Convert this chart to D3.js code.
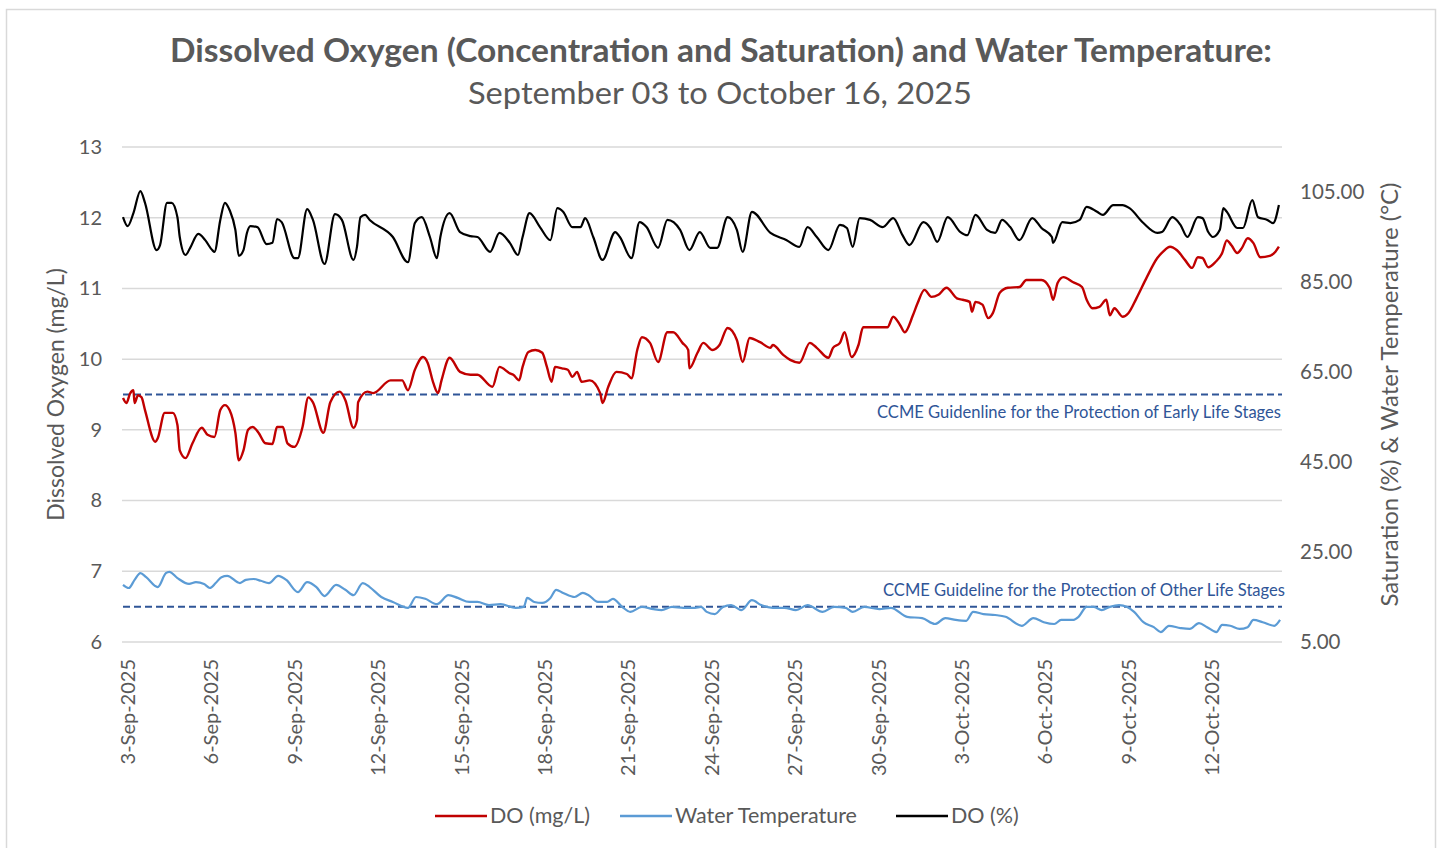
<!DOCTYPE html>
<html>
<head>
<meta charset="utf-8">
<script src="https://cdn.jsdelivr.net/npm/d3@7"></script>
<style>
body { margin: 0; background: #fff; }
svg text { font-family: Lato, "Open Sans", sans-serif; fill: #595959; }
</style>
</head>
<body>
<svg id="chart" width="1438" height="848"></svg>
<script>
var svg = d3.select('#chart');
const W = +svg.attr('width');
const H = +svg.attr('height');

// readings: [hours since 3-Sep-2025 00:00, value]
const doMgL = [[0,9.45],[3,9.38],[6,9.51],[9,9.56],[10,9.38],[13,9.49],[16,9.46],[19,9.28],[28,8.83],[30,8.88],[36,9.24],[43,9.24],[47,9.07],[49,8.71],[54,8.60],[60,8.81],[68,9.03],[73,8.93],[79,8.90],[84,9.28],[88,9.35],[92,9.28],[97,8.96],[100,8.57],[104,8.71],[108,9.00],[112,9.04],[117,8.96],[123,8.81],[129,8.80],[133,9.04],[138,9.04],[142,8.81],[148,8.76],[155,9.04],[160,9.46],[164,9.39],[173,8.96],[179,9.39],[187,9.54],[192,9.42],[199,9.03],[202,9.14],[203,9.39],[211,9.54],[216,9.52],[231,9.70],[241,9.70],[246,9.56],[252,9.85],[259,10.03],[263,9.95],[268,9.66],[272,9.52],[275,9.70],[282,10.02],[291,9.82],[300,9.78],[306,9.78],[319,9.61],[325,9.89],[334,9.80],[337,9.78],[342,9.70],[345,9.89],[350,10.10],[356,10.13],[362,10.09],[366,9.89],[370,9.68],[373,9.89],[379,9.87],[384,9.85],[388,9.75],[392,9.82],[396,9.68],[403,9.70],[412,9.52],[414,9.38],[419,9.61],[426,9.82],[435,9.79],[439,9.73],[444,10.13],[448,10.31],[455,10.23],[462,9.96],[470,10.38],[475,10.38],[483,10.23],[488,10.13],[489,9.87],[496,10.09],[501,10.23],[509,10.13],[515,10.20],[522,10.44],[530,10.27],[535,9.96],[541,10.30],[550,10.24],[559,10.16],[561,10.20],[570,10.06],[576,9.99],[584,9.95],[593,10.23],[599,10.16],[609,10.02],[613,10.16],[619,10.23],[623,10.38],[629,10.03],[635,10.20],[639,10.45],[654,10.45],[660,10.45],[665,10.60],[671,10.48],[675,10.38],[682,10.62],[686,10.79],[692,10.98],[698,10.88],[704,10.91],[711,11.01],[720,10.86],[725,10.84],[731,10.81],[733,10.67],[736,10.81],[742,10.77],[747,10.58],[751,10.65],[757,10.94],[764,11.01],[774,11.02],[780,11.12],[793,11.12],[800,11.01],[803,10.84],[807,11.08],[812,11.16],[820,11.09],[828,11.02],[832,10.84],[837,10.72],[843,10.74],[849,10.84],[852,10.62],[856,10.72],[863,10.60],[868,10.65],[875,10.86],[884,11.16],[893,11.43],[898,11.52],[904,11.59],[910,11.54],[917,11.40],[923,11.29],[928,11.44],[932,11.43],[937,11.30],[943,11.37],[949,11.50],[953,11.68],[957,11.61],[962,11.50],[966,11.57],[971,11.71],[976,11.64],[982,11.44],[990,11.46],[995,11.52],[998,11.59]];

const waterTemp = [[0,17.7],[5,17.0],[10,18.8],[15,20.3],[20,19.4],[30,17.2],[37,20.3],[40,20.6],[47,19.2],[57,17.9],[63,18.3],[70,17.9],[75,17.0],[80,18.1],[85,19.4],[90,19.7],[101,18.1],[106,18.8],[113,19.0],[119,18.6],[126,18.1],[134,19.7],[141,18.8],[151,16.1],[159,18.3],[167,17.2],[174,15.2],[184,17.7],[192,16.6],[199,15.4],[207,18.1],[213,17.2],[223,15.0],[233,13.9],[246,12.6],[253,15.0],[261,14.6],[271,13.4],[281,15.4],[289,14.8],[299,13.9],[306,13.9],[316,13.2],[326,13.4],[339,12.6],[346,12.8],[349,14.8],[355,13.9],[362,13.7],[369,14.8],[374,16.6],[380,15.9],[390,15.0],[397,15.9],[402,15.4],[410,13.9],[418,13.9],[423,14.6],[431,12.8],[438,11.7],[448,12.8],[458,12.3],[465,12.1],[474,12.8],[484,12.6],[494,12.6],[499,12.8],[504,11.7],[511,11.2],[518,12.8],[525,13.2],[534,12.1],[543,14.3],[551,13.2],[561,12.6],[571,12.6],[581,12.1],[591,13.2],[604,11.7],[614,12.8],[624,12.6],[630,11.7],[640,12.8],[653,12.3],[663,12.6],[677,10.6],[690,10.3],[701,9.0],[710,10.3],[719,9.9],[728,9.7],[734,11.7],[743,11.2],[753,11.0],[762,10.6],[776,8.6],[786,10.3],[795,9.4],[804,9.0],[810,9.9],[820,9.9],[825,10.6],[832,12.8],[838,12.8],[845,12.1],[852,12.8],[860,13.2],[867,12.8],[873,11.7],[881,9.4],[890,8.3],[896,7.2],[903,8.6],[913,8.1],[921,7.9],[929,9.2],[936,8.3],[944,7.2],[949,8.8],[956,8.6],[964,7.9],[971,8.3],[976,9.9],[984,9.4],[994,8.6],[999,9.9]];

const doPct = [[0,99.4],[4,97.4],[9,100.3],[15,105.2],[19,102.6],[29,92.1],[32,93.2],[38,102.6],[42,102.6],[47,99.4],[49,95.0],[54,91.0],[58,92.6],[65,95.7],[71,94.3],[77,92.1],[79,91.7],[84,98.8],[88,102.6],[92,101.0],[97,96.6],[100,90.8],[104,92.1],[107,95.9],[110,97.4],[116,97.2],[124,93.4],[129,93.7],[133,99.0],[137,98.3],[148,90.3],[151,90.3],[159,101.2],[164,98.8],[174,89.0],[183,100.1],[189,98.8],[199,89.9],[202,92.8],[205,99.4],[209,99.9],[213,98.8],[233,95.0],[246,89.4],[252,98.1],[258,99.4],[265,95.0],[271,90.3],[274,95.0],[282,100.3],[291,96.1],[300,95.2],[306,95.0],[317,91.7],[325,95.9],[334,93.7],[341,91.0],[345,95.0],[351,100.3],[360,97.2],[369,94.3],[375,101.4],[380,100.6],[388,97.2],[395,97.2],[399,99.2],[406,95.0],[414,89.9],[425,96.1],[429,95.0],[439,90.3],[446,98.3],[452,97.2],[462,92.6],[470,98.8],[481,96.6],[489,92.1],[498,96.1],[507,92.6],[513,92.6],[522,99.4],[530,96.6],[535,91.7],[543,100.6],[559,95.9],[573,94.3],[584,92.8],[591,97.2],[599,95.0],[609,92.1],[619,97.7],[625,97.0],[630,92.8],[636,99.2],[645,98.8],[656,97.2],[665,99.2],[673,95.4],[679,93.2],[691,98.3],[697,97.0],[703,93.9],[712,99.4],[723,96.1],[729,95.4],[736,99.9],[746,96.6],[753,95.9],[759,98.8],[766,97.2],[774,94.3],[785,99.2],[793,97.0],[802,95.0],[803,93.7],[811,98.3],[818,98.1],[826,98.8],[832,101.7],[841,100.6],[846,99.9],[855,102.1],[863,102.1],[869,101.4],[881,98.1],[893,95.9],[897,96.1],[906,99.4],[913,97.7],[919,95.0],[928,99.4],[932,99.2],[937,96.1],[941,95.0],[947,96.6],[950,101.4],[953,100.6],[962,97.0],[967,97.0],[975,103.2],[980,99.4],[988,98.8],[993,98.1],[998,102.1]];

const tickDates = ["2025-09-03","2025-09-06","2025-09-09","2025-09-12","2025-09-15","2025-09-18","2025-09-21","2025-09-24","2025-09-27","2025-09-30","2025-10-03","2025-10-06","2025-10-09","2025-10-12"];
const leftTicks = [6, 7, 8, 9, 10, 11, 12, 13];
const rightTicks = [5, 25, 45, 65, 85, 105];
const guidelines = [
    {value: 9.5, label: "CCME Guidenline for the Protection of Early Life Stages", dy: 23, end: 1281, len: 404},
    {value: 6.5, label: "CCME Guideline for the Protection of Other Life Stages", dy: -11, end: 1285, len: 402}
];
const seriesNames = ["DO (mg/L)", "Water Temperature", "DO (%)"];
const seriesColors = ["#c00000", "#5b9bd5", "#000000"];

const startDate = new Date(2025, 8, 3, 0, 0);
const endDate = new Date(2025, 9, 14, 16, 40);
const parseDay = d3.timeParse("%Y-%m-%d");
const fmtDay = d3.timeFormat("%-d-%b-%Y");
const toDate = h => new Date(startDate.getTime() + h * 3600 * 1000);

const margin = {top: 147, bottom: 206, left: 123, right: 156};
const innerR = W - margin.right;
const innerB = H - margin.bottom;

const X = d3.scaleTime().domain([startDate, endDate]).range([margin.left, innerR]);
const Yleft = d3.scaleLinear().domain([6, 13]).range([innerB, margin.top]);
const Yright = d3.scaleLinear().domain([5, 115]).range([innerB, margin.top]);

// chart area border
svg.append('rect')
    .attr('x', 6.5).attr('y', 9.5)
    .attr('width', W - 9).attr('height', H - 8)
    .attr('fill', 'white').attr('stroke', '#d9d9d9').attr('stroke-width', 1.5);

// gridlines
svg.append('g').selectAll('line').data(leftTicks)
    .enter().append('line')
        .attr('x1', margin.left - 1).attr('x2', innerR)
        .attr('y1', d => Yleft(d)).attr('y2', d => Yleft(d))
        .style('stroke', '#d9d9d9').style('stroke-width', 1.5);

// left axis
const gl = svg.append('g')
    .attr('transform', 'translate(' + (margin.left - 1) + ',0)')
    .call(d3.axisLeft(Yleft).tickValues(leftTicks).tickSize(0).tickPadding(20).tickFormat(d3.format('d')));
gl.select('.domain').remove();
gl.selectAll('text').style('font-size', '20px').style('fill', '#595959').style('font-family', 'Lato');

// right axis
const gr = svg.append('g')
    .attr('transform', 'translate(' + innerR + ',0)')
    .call(d3.axisRight(Yright).tickValues(rightTicks).tickSize(0).tickPadding(18).tickFormat(d3.format('.2f')));
gr.select('.domain').remove();
gr.selectAll('text').style('font-size', '20.5px').style('fill', '#595959').style('font-family', 'Lato');

// x tick labels, rotated
svg.append('g').selectAll('text').data(tickDates)
    .enter().append('text')
        .attr('transform', d => 'translate(' + (X(parseDay(d)) + 5) + ',' + (innerB + 17) + ') rotate(-90)')
        .attr('dy', '0.35em')
        .attr('text-anchor', 'end')
        .style('font-size', '20px')
        .text(d => fmtDay(parseDay(d)));

// guideline dashed lines
guidelines.forEach(g => {
    svg.append('line')
        .attr('x1', margin.left).attr('x2', innerR)
        .attr('y1', Yleft(g.value)).attr('y2', Yleft(g.value))
        .style('stroke', '#2f5597').style('stroke-width', 2)
        .style('stroke-dasharray', '7,4');
    svg.append('text')
        .attr('x', g.end).attr('y', Yleft(g.value) + g.dy)
        .attr('text-anchor', 'end')
        .attr('textLength', g.len).attr('lengthAdjust', 'spacingAndGlyphs')
        .style('font-size', '16.5px').style('fill', '#2f5597')
        .text(g.label);
});

// series
const lineL = d3.line().curve(d3.curveMonotoneX).x(d => X(toDate(d[0]))).y(d => Yleft(d[1]));
const lineR = d3.line().curve(d3.curveMonotoneX).x(d => X(toDate(d[0]))).y(d => Yright(d[1]));

svg.append('path').datum(doMgL)
    .attr('d', lineL).attr('fill', 'none')
    .style('stroke', seriesColors[0]).style('stroke-width', 2.4).style('stroke-linejoin', 'round');
svg.append('path').datum(waterTemp)
    .attr('d', lineR).attr('fill', 'none')
    .style('stroke', seriesColors[1]).style('stroke-width', 2.2).style('stroke-linejoin', 'round');
svg.append('path').datum(doPct)
    .attr('d', lineR).attr('fill', 'none')
    .style('stroke', seriesColors[2]).style('stroke-width', 2.2).style('stroke-linejoin', 'round');

// titles
svg.append('text')
    .attr('x', 721).attr('y', 62)
    .attr('text-anchor', 'middle')
    .attr('textLength', 1102).attr('lengthAdjust', 'spacingAndGlyphs')
    .style('font-size', '32px').style('font-weight', 'bold')
    .text("Dissolved Oxygen (Concentration and Saturation) and Water Temperature:");
svg.append('text')
    .attr('x', 720).attr('y', 104)
    .attr('text-anchor', 'middle')
    .attr('textLength', 504).attr('lengthAdjust', 'spacingAndGlyphs')
    .style('font-size', '31px')
    .text("September 03 to October 16, 2025");

svg.append('text')
    .attr('transform', 'translate(64,' + ((margin.top + innerB) / 2) + ') rotate(-90)')
    .attr('text-anchor', 'middle')
    .style('font-size', '23px')
    .text("Dissolved Oxygen (mg/L)");
svg.append('text')
    .attr('transform', 'translate(1398,' + ((margin.top + innerB) / 2) + ') rotate(-90)')
    .attr('text-anchor', 'middle')
    .style('font-size', '24px')
    .text("Saturation (%) & Water Temperature (°C)");

// legend
const legendX = [435, 620, 896];
const legend = svg.append('g');
seriesNames.forEach((name, i) => {
    legend.append('line')
        .attr('x1', legendX[i]).attr('x2', legendX[i] + 52)
        .attr('y1', 816).attr('y2', 816)
        .style('stroke', seriesColors[i]).style('stroke-width', 2.5);
    legend.append('text')
        .attr('x', legendX[i] + 55).attr('y', 823)
        .style('font-size', '21.5px')
        .text(name);
});
</script>
</body>
</html>
